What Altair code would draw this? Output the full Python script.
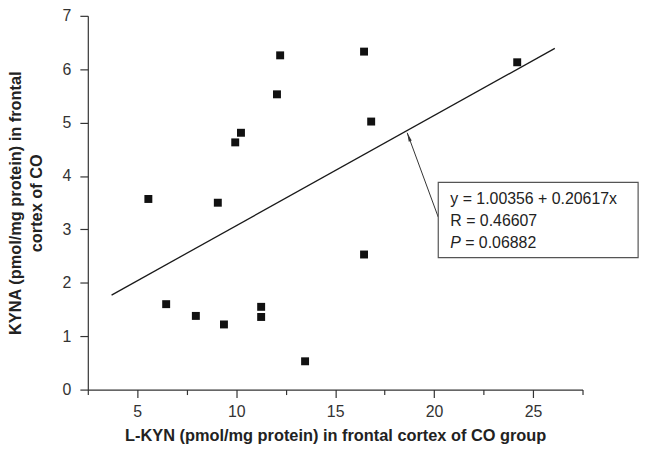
import altair as alt
import pandas as pd

# Scatter data
lkyn = [5.56, 6.46, 7.96, 9.07, 9.38, 9.95, 10.24, 11.26, 11.26, 12.06, 12.22, 13.48, 16.46, 16.46, 16.82, 24.2]
kyna = [3.57, 1.60, 1.38, 3.50, 1.22, 4.63, 4.81, 1.55, 1.36, 5.53, 6.26, 0.53, 6.33, 2.53, 5.02, 6.13]

# Regression line end points
fit_x = [3.7, 26.1]
fit_y = [1.77, 6.39]

# Annotation (in data coordinates)
box_x = [20.21, 30.31]
box_y = [2.47, 3.88]
arrow_from = [20.21, 3.23]
arrow_to = [18.64, 4.81]
text_x = 20.82
text_lines = ["y = 1.00356 + 0.20617x", "R = 0.46607"]
text_line_y = [3.48, 3.065]
p_label = "P"
p_value = "= 0.06882"
p_y = 2.655

x_ticks = [2.5, 5, 7.5, 10, 12.5, 15, 17.5, 20, 22.5, 25, 27.5]
y_ticks = [0, 0.5, 1, 1.5, 2, 2.5, 3, 3.5, 4, 4.5, 5, 5.5, 6, 6.5, 7]

FONT = "Liberation Sans"
AX = "#333333"

xs = alt.Scale(domain=[2.5, 27.5], nice=False, zero=False)
ys = alt.Scale(domain=[0, 7], nice=False, zero=False)

pts = pd.DataFrame({"x": lkyn, "y": kyna})
fit = pd.DataFrame({"x": fit_x, "y": fit_y})
box = pd.DataFrame({"x": [box_x[0]], "x2": [box_x[1]], "y": [box_y[0]], "y2": [box_y[1]]})
arr = pd.DataFrame({"x": [arrow_from[0]], "y": [arrow_from[1]], "x2": [arrow_to[0]], "y2": [arrow_to[1]]})
head = pd.DataFrame({"x": [arrow_to[0]], "y": [arrow_to[1]]})
txt = pd.DataFrame({"x": [text_x] * len(text_lines), "y": text_line_y, "t": text_lines})
ptxt = pd.DataFrame({"x": [text_x], "y": [p_y], "t": [p_label]})
pval = pd.DataFrame({"x": [text_x], "y": [p_y], "t": [p_value]})

x_axis = alt.Axis(
    values=x_ticks,
    labelExpr="datum.value % 5 === 0 ? '' + datum.value : ''",
    title="L-KYN (pmol/mg protein) in frontal cortex of CO group",
    grid=False,
    tickSize={"condition": {"test": "datum.value % 5 === 0", "value": 8}, "value": 5},
    labelPadding=6,
    titlePadding=8,
)
y_axis = alt.Axis(
    values=y_ticks,
    labelExpr="datum.value % 1 === 0 ? '' + datum.value : ''",
    title=["KYNA (pmol/mg protein) in frontal", "cortex of CO"],
    grid=False,
    tickSize={"condition": {"test": "datum.value % 1 === 0", "value": 8}, "value": 5},
    labelPadding=9,
    titlePadding=18,
    titleLineHeight=21,
)

X = alt.X("x:Q", scale=xs)
Y = alt.Y("y:Q", scale=ys)

points = alt.Chart(pts).mark_square(size=64, color="#111111", opacity=1).encode(
    x=alt.X("x:Q", scale=xs, axis=x_axis),
    y=alt.Y("y:Q", scale=ys, axis=y_axis),
)

line = alt.Chart(fit).mark_line(color="#1a1a1a", strokeWidth=1.3).encode(x=X, y=Y)

rect = alt.Chart(box).mark_rect(fill="white", stroke="#555555", strokeWidth=1.2).encode(
    x=X, x2="x2:Q", y=Y, y2="y2:Q",
)

arrow = alt.Chart(arr).mark_rule(color="#333333", strokeWidth=1).encode(
    x=X, x2="x2:Q", y=Y, y2="y2:Q",
)

arrowhead = alt.Chart(head).mark_point(
    shape="M0,0L0.32,1.8L-0.32,1.8Z", filled=True, color="#333333", opacity=1, size=100
).encode(x=X, y=Y, angle=alt.value(340))

text = alt.Chart(txt).mark_text(
    align="left", baseline="alphabetic", font=FONT, fontSize=16, color="#222222"
).encode(x=X, y=Y, text="t:N")

ptext = alt.Chart(ptxt).mark_text(
    align="left", baseline="alphabetic", font=FONT, fontSize=16, fontStyle="italic", color="#222222"
).encode(x=X, y=Y, text="t:N")

pvtext = alt.Chart(pval).mark_text(
    align="left", baseline="alphabetic", font=FONT, fontSize=16, color="#222222", dx=15
).encode(x=X, y=Y, text="t:N")

chart = alt.layer(points, line, arrow, rect, arrowhead, text, ptext, pvtext).properties(
    width=499,
    height=377,
    autosize=alt.AutoSizeParams(type="none"),
    padding={"left": 80.5, "top": 6, "right": 60, "bottom": 56},
).configure_view(stroke=None).configure_axis(
    labelFont=FONT,
    labelFontSize=16,
    labelColor="#333333",
    titleFont=FONT,
    titleFontSize=16.5,
    titleFontWeight="bold",
    titleColor="#222222",
    domainColor=AX,
    tickColor=AX,
    domainWidth=1.2,
    tickWidth=1.2,
)

chart.save("out.html", embed_options={"renderer": "svg", "actions": False})
